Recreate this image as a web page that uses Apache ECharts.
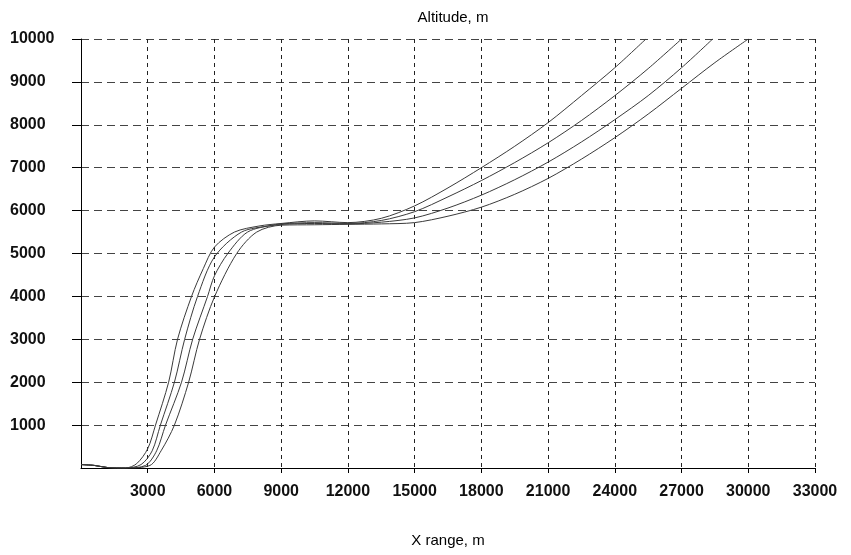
<!DOCTYPE html>
<html>
<head>
<meta charset="utf-8">
<title>Altitude vs X range</title>
<script src="https://cdn.jsdelivr.net/npm/echarts@6/dist/echarts.min.js"></script>
<style>
  html, body { margin: 0; padding: 0; background: #fff; }
  #chart { width: 851px; height: 555px; }
</style>
</head>
<body>
<div id="chart"></div>
<script>
  // x range (m) and altitude (m) of the four trajectories
  var xA = [0, 600, 1200, 2000, 2500, 3000, 3350, 3940, 4340, 4970, 5500, 6000, 6900, 8000, 9000, 10500, 12000, 13500, 15000, 16500, 18000, 19500, 21000, 22500, 24000, 25400];
  var yA = [80, 60, 10, 0, 100, 450, 1000, 2000, 3000, 4000, 4650, 5150, 5500, 5640, 5700, 5760, 5720, 5820, 6110, 6530, 7000, 7500, 8050, 8680, 9330, 10000];

  var xB = [0, 600, 1200, 2000, 2700, 3200, 3570, 4200, 4660, 5240, 6000, 7220, 8500, 9000, 10500, 12000, 13500, 15000, 16500, 18000, 19500, 21000, 22500, 24000, 25500, 27000];
  var yB = [80, 60, 10, 0, 80, 400, 1000, 2000, 3000, 4000, 4920, 5500, 5650, 5690, 5720, 5700, 5770, 5975, 6320, 6700, 7120, 7580, 8100, 8680, 9310, 10000];

  var xC = [0, 600, 1200, 2000, 2900, 3400, 3800, 4520, 5020, 5690, 6000, 6600, 7490, 8700, 10500, 12000, 13500, 15000, 16500, 18000, 19500, 21000, 22500, 24000, 25500, 27000, 28400];
  var yC = [80, 60, 10, 0, 60, 400, 1000, 2000, 3000, 4000, 4480, 5000, 5500, 5660, 5700, 5690, 5730, 5830, 6060, 6360, 6720, 7130, 7600, 8120, 8680, 9330, 10000];

  var xD = [0, 600, 1200, 2000, 3100, 3600, 4200, 4840, 5330, 6010, 7000, 7900, 9000, 10500, 12000, 13500, 15000, 16500, 18000, 19500, 21000, 22500, 24000, 25500, 27000, 28500, 30000];
  var yD = [80, 60, 10, 0, 60, 400, 1000, 2000, 3000, 4000, 5000, 5500, 5660, 5670, 5680, 5690, 5720, 5870, 6080, 6380, 6750, 7200, 7700, 8250, 8850, 9450, 10000];

  function pairs(xs, ys) {
    var out = [];
    for (var i = 0; i < xs.length; i++) {
      out.push([xs[i], ys[i]]);
    }
    return out;
  }

  function track(name, xs, ys) {
    return {
      name: name,
      type: 'line',
      smooth: 0.3,
      symbol: 'none',
      clip: true,
      lineStyle: { color: '#3a3a3a', width: 1 },
      data: pairs(xs, ys)
    };
  }

  function plain(v) {
    return String(v);
  }

  var font = 'Liberation Sans, Arial, sans-serif';
  var chart = echarts.init(document.getElementById('chart'));
  chart.setOption({
    animation: false,
    backgroundColor: '#fff',
    title: {
      text: 'Altitude, m',
      left: 448,
      top: 5,
      textAlign: 'center',
      textStyle: { fontFamily: font, fontSize: 15, fontWeight: 'normal', color: '#000' }
    },
    grid: { left: 81, right: 36, top: 39, bottom: 87 },
    xAxis: {
      type: 'value',
      min: 0,
      max: 33000,
      interval: 3000,
      name: 'X range, m',
      nameLocation: 'middle',
      nameGap: 65,
      nameTextStyle: { fontFamily: font, fontSize: 15, color: '#000' },
      axisLine: { onZero: false, lineStyle: { color: '#000', width: 1 } },
      axisTick: { show: true, length: 5, lineStyle: { color: '#000' } },
      axisLabel: { showMinLabel: false, margin: 16, formatter: plain, fontFamily: font, fontSize: 16, fontWeight: 'bold', color: '#111' },
      splitLine: { show: true, lineStyle: { color: '#222', width: 1, type: [4, 4] } }
    },
    yAxis: {
      type: 'value',
      min: 0,
      max: 10000,
      interval: 1000,
      axisLine: { show: true, onZero: false, lineStyle: { color: '#000', width: 1 } },
      axisTick: { show: true, length: 9, lineStyle: { color: '#000' } },
      axisLabel: { showMinLabel: false, margin: 71, align: 'left', formatter: plain, fontFamily: font, fontSize: 16, fontWeight: 'bold', color: '#111' },
      splitLine: { show: true, lineStyle: { color: '#444', width: 1, type: [8, 5] } }
    },
    series: [
      track('A', xA, yA),
      track('B', xB, yB),
      track('C', xC, yC),
      track('D', xD, yD)
    ]
  });
</script>
</body>
</html>
